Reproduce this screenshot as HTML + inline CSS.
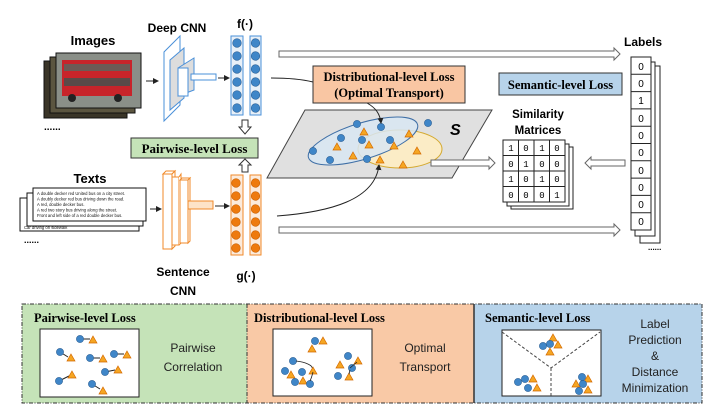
<!DOCTYPE html>
<html><head><meta charset="utf-8"><style>
body{margin:0;background:#fff}
svg{display:block}
.sans{font-family:"Liberation Sans",sans-serif;font-weight:bold}
.serif{font-family:"Liberation Serif",serif;font-weight:bold}
</style></head><body>
<svg width="713" height="416" viewBox="0 0 713 416" xmlns="http://www.w3.org/2000/svg">
<defs>
<marker id="ah" markerWidth="6" markerHeight="6" refX="5" refY="3" orient="auto"><path d="M0,0 L6,3 L0,6z" fill="#222"/></marker>
<g id="bc"><circle r="3.6" fill="#3f86c8" stroke="#2a5f95" stroke-width="0.6"/></g>
<g id="tr"><path d="M0,-4 L4,3 L-4,3z" fill="#f5a623" stroke="#d46a00" stroke-width="0.7"/></g>
</defs>

<!-- Images -->
<text x="93" y="45" class="sans" font-size="13" text-anchor="middle">Images</text>
<rect x="44" y="61" width="83" height="57" fill="#3a3528" stroke="#111"/>
<rect x="50" y="57" width="85" height="56" fill="#5b5540" stroke="#111"/>
<rect x="56" y="53" width="85" height="55" fill="#8a8f88" stroke="#111"/>
<rect x="62" y="60" width="70" height="36" fill="#c8242a"/>
<rect x="64" y="64" width="66" height="7" fill="#6d5a55"/>
<rect x="64" y="78" width="66" height="8" fill="#5a4a48"/>
<circle cx="72" cy="98" r="4" fill="#222"/><circle cx="118" cy="98" r="4" fill="#222"/>
<text x="44" y="130" font-size="10" class="sans">......</text>
<line x1="146" y1="81" x2="158" y2="81" stroke="#222" marker-end="url(#ah)"/>

<!-- Deep CNN -->
<text x="177" y="32" class="sans" font-size="12" text-anchor="middle">Deep CNN</text>
<path d="M164,52 L180,36 L180,105 L164,121z" fill="#fff" stroke="#4a90d9"/>
<path d="M170,60 L184,48 L184,98 L170,110z" fill="#ddd" stroke="#4a90d9"/>
<path d="M178,68 L194,58 L194,90 L178,96z" fill="#ddd" stroke="#4a90d9"/>
<rect x="178" y="68" width="10" height="28" fill="#fff" stroke="#4a90d9"/>
<rect x="191" y="74" width="25" height="6" fill="#fff" stroke="#4a90d9"/>
<line x1="218" y1="78" x2="229" y2="78" stroke="#222" marker-end="url(#ah)"/>

<text x="245" y="28" class="sans" font-size="12" text-anchor="middle">f(·)</text>
<g stroke="#4a90d9" fill="#e8f0f8"><rect x="231" y="36" width="12" height="79"/><rect x="250" y="36" width="11" height="79"/></g>
<g fill="#3f86c8" stroke="#2a5f95" stroke-width="0.6">
<circle cx="237" cy="43" r="4.3"/><circle cx="237" cy="56" r="4.3"/><circle cx="237" cy="69" r="4.3"/><circle cx="237" cy="82" r="4.3"/><circle cx="237" cy="95" r="4.3"/><circle cx="237" cy="108" r="4.3"/>
<circle cx="255.5" cy="43" r="4.3"/><circle cx="255.5" cy="56" r="4.3"/><circle cx="255.5" cy="69" r="4.3"/><circle cx="255.5" cy="82" r="4.3"/><circle cx="255.5" cy="95" r="4.3"/><circle cx="255.5" cy="108" r="4.3"/>
</g>
<path d="M242,120 L248,120 L248,127 L251,127 L245,134 L239,127 L242,127z" fill="#fff" stroke="#333"/>
<rect x="131" y="138" width="127" height="20" fill="#c5e3b8" stroke="#333"/>
<text x="194.5" y="153" class="serif" font-size="13" text-anchor="middle">Pairwise-level Loss</text>
<path d="M242,172 L248,172 L248,165 L251,165 L245,159 L239,165 L242,165z" fill="#fff" stroke="#333"/>

<!-- Texts -->
<text x="90" y="183" class="sans" font-size="13" text-anchor="middle">Texts</text>
<rect x="20" y="198" width="119" height="33" fill="#fff" stroke="#111"/>
<rect x="27" y="193" width="116" height="33" fill="#fff" stroke="#111"/>
<rect x="33" y="188" width="113" height="33" fill="#fff" stroke="#111"/>
<g font-family="Liberation Sans,sans-serif" font-size="4.2" fill="#111">
<text x="37" y="195">A double decker red United bus on a city street.</text>
<text x="37" y="200.5">A doubly decker red bus driving down the road.</text>
<text x="37" y="206">A red, double decker bus.</text>
<text x="37" y="211.5">A red two story bus driving along the street.</text>
<text x="37" y="217">Front and left side of a red double decker bus.</text>
<text x="24" y="229">Car driving on sidewalk</text>
</g>
<text x="24" y="243" font-size="9" class="sans">......</text>
<line x1="150" y1="209" x2="161" y2="209" stroke="#222" marker-end="url(#ah)"/>

<!-- Sentence CNN -->
<g stroke="#f08a2a" fill="#fff">
<rect x="163" y="174" width="9" height="75"/><path d="M163,174 L166,171 L175,171 L172,174z"/><path d="M172,174 L175,171 L175,246 L172,249z"/>
<rect x="172" y="177" width="7" height="68"/><path d="M179,177 L181,174 L181,243 L179,245"/>
<rect x="180" y="180" width="8" height="63"/><path d="M180,180 L182,178 L190,178 L188,180z"/><path d="M188,180 L190,178 L190,241 L188,243z"/>
<rect x="188" y="201" width="25" height="8" fill="#fde3c8"/>
</g>
<line x1="215" y1="206" x2="229" y2="206" stroke="#222" marker-end="url(#ah)"/>
<text x="183" y="276" class="sans" font-size="12" text-anchor="middle">Sentence</text>
<text x="183" y="295" class="sans" font-size="12" text-anchor="middle">CNN</text>
<text x="246" y="280" class="sans" font-size="12" text-anchor="middle">g(·)</text>
<g stroke="#f08a2a" fill="#fcebdc"><rect x="231" y="175" width="12" height="80"/><rect x="250" y="175" width="11" height="80"/></g>
<g fill="#ee7a0e" stroke="#c75f00" stroke-width="0.6">
<circle cx="236" cy="183" r="4.3"/><circle cx="236" cy="196" r="4.3"/><circle cx="236" cy="209" r="4.3"/><circle cx="236" cy="222" r="4.3"/><circle cx="236" cy="235" r="4.3"/><circle cx="236" cy="248" r="4.3"/>
<circle cx="255.5" cy="183" r="4.3"/><circle cx="255.5" cy="196" r="4.3"/><circle cx="255.5" cy="209" r="4.3"/><circle cx="255.5" cy="222" r="4.3"/><circle cx="255.5" cy="235" r="4.3"/><circle cx="255.5" cy="248" r="4.3"/>
</g>

<!-- long arrows -->
<path d="M279,51 L614,51 L614,48 L620,54 L614,60 L614,57 L279,57z" fill="#fff" stroke="#666"/>
<path d="M279,227 L614,227 L614,224 L620,230 L614,236 L614,233 L279,233z" fill="#fff" stroke="#666"/>

<!-- plane -->
<path d="M305,110 L492,110 L452,178 L267,178z" fill="#e0e0e0" stroke="#444"/>
<ellipse cx="400" cy="149" rx="42" ry="19" fill="#fbecc6" stroke="#d4a930"/>
<ellipse cx="363" cy="141" rx="57" ry="18" transform="rotate(-17 363 141)" fill="#d8e6f2" fill-opacity="0.85" stroke="#3f6fa6"/>
<text x="450" y="135" font-family="Liberation Sans,sans-serif" font-style="italic" font-weight="bold" font-size="16">S</text>
<g>
<use href="#bc" x="313" y="151"/><use href="#bc" x="330" y="160"/><use href="#bc" x="341" y="138"/><use href="#bc" x="357" y="124"/><use href="#bc" x="362" y="140"/><use href="#bc" x="381" y="127"/><use href="#bc" x="390" y="140"/><use href="#bc" x="367" y="159"/><use href="#bc" x="428" y="123"/>
<use href="#tr" x="337" y="147"/><use href="#tr" x="353" y="156"/><use href="#tr" x="364" y="132"/><use href="#tr" x="369" y="145"/><use href="#tr" x="394" y="146"/><use href="#tr" x="409" y="134"/><use href="#tr" x="417" y="151"/><use href="#tr" x="380" y="160"/><use href="#tr" x="403" y="165"/>
</g>
<path d="M367,103 C376,108 380,114 381,123" fill="none" stroke="#222" marker-end="url(#ah)"/>
<path d="M277,216 C330,212 375,200 379,165" fill="none" stroke="#222" marker-end="url(#ah)"/>
<path d="M271,78 C290,78 305,80 313,82" fill="none" stroke="#222"/>
<rect x="313" y="66" width="152" height="37" fill="#f9c6a3" stroke="#333"/>
<text x="389" y="81" class="serif" font-size="12.5" text-anchor="middle">Distributional-level Loss</text>
<text x="389" y="97" class="serif" font-size="12.5" text-anchor="middle">(Optimal Transport)</text>

<!-- arrows to matrix -->
<path d="M431,160 L489,160 L489,157 L495,163 L489,169 L489,166 L431,166z" fill="#fff" stroke="#666"/>
<path d="M625,160 L591,160 L591,157 L585,163 L591,169 L591,166 L625,166z" fill="#fff" stroke="#666"/>

<rect x="499" y="73" width="123" height="22" fill="#b7d3ea" stroke="#333"/>
<text x="560.5" y="89" class="serif" font-size="12.5" text-anchor="middle">Semantic-level Loss</text>
<text x="538" y="118" class="sans" font-size="11.5" text-anchor="middle">Similarity</text>
<text x="538" y="134" class="sans" font-size="11.5" text-anchor="middle">Matrices</text>
<rect x="511" y="147" width="62" height="62" fill="#fff" stroke="#222"/>
<rect x="507" y="144" width="62" height="62" fill="#fff" stroke="#222"/>
<g stroke="#222" fill="#fff"><rect x="503" y="140" width="62" height="62"/>
<path d="M503,155.5 H565 M503,171 H565 M503,186.5 H565 M518.5,140 V202 M534,140 V202 M549.5,140 V202" fill="none"/></g>
<g font-family="Liberation Mono,monospace" font-size="9" text-anchor="middle">
<text x="511" y="151">1</text><text x="526" y="151">0</text><text x="542" y="151">1</text><text x="557" y="151">0</text>
<text x="511" y="167">0</text><text x="526" y="167">1</text><text x="542" y="167">0</text><text x="557" y="167">0</text>
<text x="511" y="182">1</text><text x="526" y="182">0</text><text x="542" y="182">1</text><text x="557" y="182">0</text>
<text x="511" y="198">0</text><text x="526" y="198">0</text><text x="542" y="198">0</text><text x="557" y="198">1</text>
</g>

<!-- Labels -->
<text x="643" y="46" class="sans" font-size="12" text-anchor="middle">Labels</text>
<rect x="640" y="66" width="20" height="177" fill="#fff" stroke="#222"/>
<rect x="635" y="62" width="20" height="174" fill="#fff" stroke="#222"/>
<g stroke="#222" fill="#fff"><rect x="631" y="57" width="20" height="173"/>
<path d="M631,74.3 H651 M631,91.6 H651 M631,108.9 H651 M631,126.2 H651 M631,143.5 H651 M631,160.8 H651 M631,178.1 H651 M631,195.4 H651 M631,212.7 H651" fill="none"/></g>
<g font-family="Liberation Sans,sans-serif" font-size="10" text-anchor="middle">
<text x="641" y="70">0</text><text x="641" y="87">0</text><text x="641" y="104">1</text><text x="641" y="122">0</text><text x="641" y="139">0</text><text x="641" y="156">0</text><text x="641" y="174">0</text><text x="641" y="191">0</text><text x="641" y="208">0</text><text x="641" y="225">0</text>
</g>
<text x="648" y="250" font-size="8" class="sans">......</text>

<!-- bottom panels -->
<rect x="22" y="304" width="225" height="99" fill="#c5e3b8"/>
<rect x="247" y="304" width="227" height="99" fill="#f9c9a6"/>
<rect x="474" y="304" width="228" height="99" fill="#b7d3ea"/>
<rect x="22" y="304" width="680" height="99" fill="none" stroke="#333" stroke-dasharray="4,1.5,1,1.5"/>
<line x1="247" y1="304" x2="247" y2="403" stroke="#333" stroke-dasharray="4,1.5,1,1.5"/>
<line x1="474" y1="304" x2="474" y2="403" stroke="#333" stroke-width="1.5"/>
<text x="34" y="322" class="serif" font-size="12.5">Pairwise-level Loss</text>
<text x="254" y="322" class="serif" font-size="12.5">Distributional-level Loss</text>
<text x="485" y="322" class="serif" font-size="12.5">Semantic-level Loss</text>
<rect x="40" y="329" width="99" height="68" fill="#fff" stroke="#222"/>
<rect x="273" y="329" width="99" height="67" fill="#fff" stroke="#222"/>
<rect x="502" y="330" width="99" height="66" fill="#fff" stroke="#222"/>
<g font-family="Liberation Sans,sans-serif" font-size="12" text-anchor="middle" fill="#222">
<text x="193" y="352">Pairwise</text><text x="193" y="371">Correlation</text>
<text x="425" y="352">Optimal</text><text x="425" y="371">Transport</text>
<text x="655" y="328">Label</text><text x="655" y="344">Prediction</text><text x="655" y="360">&amp;</text><text x="655" y="376">Distance</text><text x="655" y="392">Minimization</text>
</g>
<!-- pairwise dots -->
<g stroke="#222" stroke-width="1">
<line x1="80" y1="339" x2="90" y2="339"/><line x1="60" y1="352" x2="68" y2="357"/><line x1="90" y1="358" x2="100" y2="358"/><line x1="114" y1="354" x2="124" y2="354"/><line x1="105" y1="372" x2="115" y2="370"/><line x1="59" y1="381" x2="69" y2="376"/><line x1="92" y1="384" x2="100" y2="389"/>
</g>
<use href="#bc" x="80" y="339"/><use href="#tr" x="93" y="340"/>
<use href="#bc" x="60" y="352"/><use href="#tr" x="71" y="358"/>
<use href="#bc" x="90" y="358"/><use href="#tr" x="103" y="359"/>
<use href="#bc" x="114" y="354"/><use href="#tr" x="127" y="355"/>
<use href="#bc" x="105" y="372"/><use href="#tr" x="118" y="370"/>
<use href="#bc" x="59" y="381"/><use href="#tr" x="72" y="375"/>
<use href="#bc" x="92" y="384"/><use href="#tr" x="103" y="391"/>
<!-- OT dots -->
<use href="#bc" x="315" y="341"/><use href="#tr" x="323" y="341"/><use href="#tr" x="312" y="349"/>
<use href="#bc" x="293" y="361"/><use href="#tr" x="313" y="371"/><use href="#bc" x="285" y="371"/><use href="#tr" x="291" y="375"/>
<use href="#bc" x="302" y="372"/><use href="#bc" x="295" y="382"/><use href="#tr" x="303" y="381"/><use href="#bc" x="310" y="384"/>
<use href="#bc" x="348" y="356"/><use href="#tr" x="340" y="365"/><use href="#bc" x="352" y="368"/><use href="#bc" x="338" y="376"/><use href="#tr" x="349" y="377"/><use href="#tr" x="358" y="361"/>
<path d="M296,361 C306,362 313,366 312,368" fill="none" stroke="#222" stroke-width="0.8"/>
<path d="M313,372 C312,376 311,379 310,381" fill="none" stroke="#222" stroke-width="0.8"/>
<path d="M350,368 L357,362 M350,370 L349,374" fill="none" stroke="#222" stroke-width="0.8"/>
<!-- semantic -->
<path d="M502,332 L551,368 L600,332 M551,368 V396" fill="none" stroke="#444" stroke-dasharray="3,2"/>
<use href="#tr" x="553" y="338"/><use href="#bc" x="543" y="346"/><use href="#bc" x="550" y="344"/><use href="#tr" x="558" y="345"/><use href="#tr" x="550" y="352"/>
<use href="#bc" x="518" y="382"/><use href="#bc" x="525" y="379"/><use href="#tr" x="533" y="379"/><use href="#bc" x="528" y="388"/><use href="#tr" x="537" y="388"/>
<use href="#bc" x="582" y="377"/><use href="#tr" x="588" y="379"/><use href="#tr" x="576" y="384"/><use href="#bc" x="583" y="384"/><use href="#bc" x="579" y="391"/><use href="#tr" x="588" y="390"/>
</svg>
</body></html>
